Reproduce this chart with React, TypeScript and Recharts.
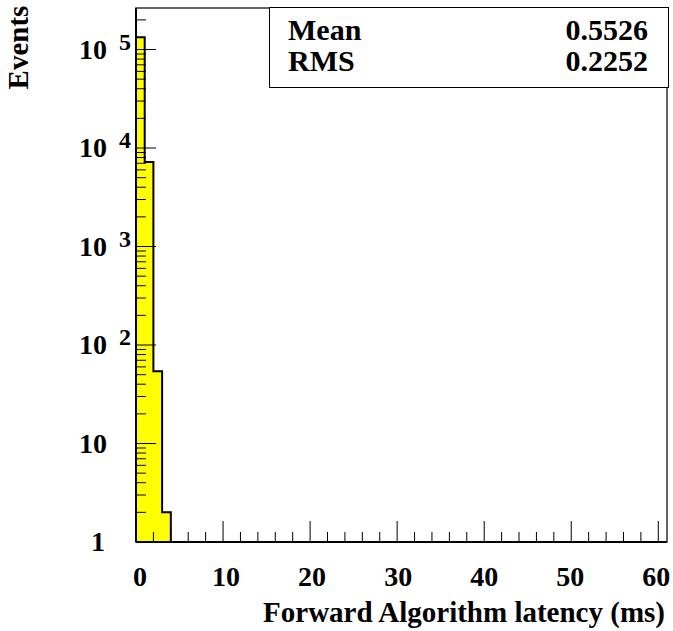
import { Area, AreaChart, ReferenceArea, XAxis, YAxis } from 'recharts';

// histogram bins (ms) and event counts
const binEdges = [0, 1, 2, 3, 4];
const counts = [133000, 7230, 54, 2];

const xTicks = Array.from({ length: 31 }, (_, i) => i * 2);
const xLabels = [0, 10, 20, 30, 40, 50, 60];
const yTicks: number[] = [];
for (let e = 0; e <= 5; e++) {
  for (let m = 1; m <= 9; m++) {
    const v = m * Math.pow(10, e);
    if (v <= 260000) yTicks.push(v);
  }
}

const statsLabels = ['Mean', 'RMS'];
const statsValues = ['0.5526', '0.2252'];

const X_MAX = 61;
const Y_MIN = 1;
const Y_MAX = 264000;

// step outline: each bin starts at its left edge, close down to the baseline
const histData = [
  ...counts.map((c, i) => ({ x: binEdges[i], y: c })),
  { x: binEdges[binEdges.length - 1], y: Y_MIN },
];

const FONT = '"Liberation Serif", "Times New Roman", serif';

const XTick = (props: any) => {
  const { x, y, payload } = props;
  const v = payload.value;
  const major = v % 10 === 0;
  return (
    <g>
      <line x1={x} y1={y} x2={x} y2={y - (major ? 21 : 10)} stroke="#000" strokeWidth={1} />
      {xLabels.includes(v) && (
        <text
          x={x + 4 - v / 10}
          y={y + 44}
          textAnchor="middle"
          fontFamily={FONT}
          fontWeight="bold"
          fontSize={28}
          fill="#000"
        >
          {v}
        </text>
      )}
    </g>
  );
};

const YTick = (props: any) => {
  const { x, y, payload } = props;
  const v = payload.value;
  const lg = Math.log10(v);
  const exp = Math.round(lg);
  const major = Math.abs(lg - exp) < 1e-9;
  let label = null;
  if (major) {
    const common = { fontFamily: FONT, fontWeight: 'bold', fill: '#000' };
    if (exp === 0) {
      label = (
        <text x={x - 31} y={y + 9} textAnchor="end" fontSize={28} {...common}>
          1
        </text>
      );
    } else if (exp === 1) {
      label = (
        <text x={x - 29} y={y + 9} textAnchor="end" fontSize={28} {...common}>
          10
        </text>
      );
    } else {
      label = (
        <g>
          <text x={x - 29} y={y + 9} textAnchor="end" fontSize={28} {...common}>
            10
          </text>
          <text x={x - 17} y={y} textAnchor="start" fontSize={24} {...common}>
            {exp}
          </text>
        </g>
      );
    }
  }
  return (
    <g>
      <line x1={x} y1={y} x2={x + (major ? 20 : 10)} y2={y} stroke="#000" strokeWidth={1} />
      {label}
    </g>
  );
};

export default function App() {
  return (
    <div style={{ position: 'absolute', left: 0, top: 0, width: 673, height: 631, background: '#fff' }}>
      <AreaChart
        width={673}
        height={631}
        data={histData}
        margin={{ top: 8, right: 6, bottom: 88, left: 135 }}
      >
        <XAxis
          dataKey="x"
          type="number"
          domain={[0, X_MAX]}
          ticks={xTicks}
          interval={0}
          height={1}
          tickSize={0}
          tickMargin={0}
          tickLine={false}
          axisLine={{ stroke: '#000', strokeWidth: 2 }}
          tick={(p: any) => <XTick {...p} />}
          allowDataOverflow
        />
        <YAxis
          type="number"
          scale="log"
          domain={[Y_MIN, Y_MAX]}
          ticks={yTicks}
          interval={0}
          width={1}
          tickSize={0}
          tickMargin={0}
          tickLine={false}
          axisLine={{ stroke: '#000', strokeWidth: 2 }}
          tick={(p: any) => <YTick {...p} />}
          allowDataOverflow
        />
        <Area
          type="stepAfter"
          dataKey="y"
          baseValue={Y_MIN}
          stroke="#000"
          strokeWidth={2}
          fill="#ffff00"
          fillOpacity={1}
          dot={false}
          activeDot={false}
          isAnimationActive={false}
        />
        <ReferenceArea
          x1={0}
          x2={X_MAX}
          y1={Y_MIN}
          y2={Y_MAX}
          fill="none"
          stroke="#333"
          strokeWidth={1.5}
        />
      </AreaChart>

      <div
        style={{
          position: 'absolute',
          left: 269,
          top: 7,
          width: 398,
          height: 79,
          border: '1.5px solid #000',
          background: '#fff',
          fontFamily: FONT,
          fontWeight: 'bold',
          fontSize: 30,
          color: '#000',
        }}
      >
        {statsLabels.map((l, i) => (
          <div
            key={l}
            style={{
              position: 'absolute',
              left: 18,
              right: 20,
              top: 4 + i * 31,
              display: 'flex',
              justifyContent: 'space-between',
              lineHeight: '36px',
            }}
          >
            <span>{l}</span>
            <span>{statsValues[i]}</span>
          </div>
        ))}
      </div>

      <div
        style={{
          position: 'absolute',
          right: 8,
          top: 594,
          fontFamily: FONT,
          fontWeight: 'bold',
          fontSize: 29,
          color: '#000',
          whiteSpace: 'nowrap',
          lineHeight: '36px',
        }}
      >
        Forward Algorithm latency (ms)
      </div>

      <div
        style={{
          position: 'absolute',
          left: 0,
          top: 1,
          width: 38,
          height: 94,
          display: 'flex',
          alignItems: 'flex-start',
          justifyContent: 'center',
        }}
      >
        <div
          style={{
            transform: 'rotate(-90deg)',
            transformOrigin: 'center',
            fontFamily: FONT,
            fontWeight: 'bold',
            fontSize: 29,
            color: '#000',
            whiteSpace: 'nowrap',
            marginTop: 30,
          }}
        >
          Events
        </div>
      </div>
    </div>
  );
}
